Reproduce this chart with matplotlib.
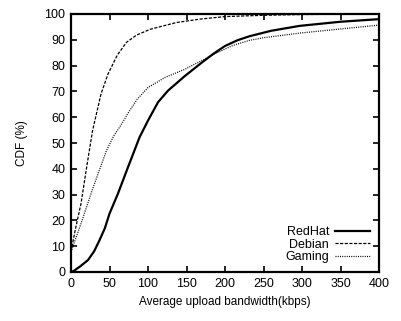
import matplotlib
matplotlib.use("Agg")
import matplotlib.pyplot as plt

plt.rcParams['font.family'] = ['Liberation Sans', 'DejaVu Sans']
plt.rcParams['font.size'] = 9

# values (kbps, CDF %)
redhat_x = [0, 4, 12, 22, 30, 37, 44, 50, 61, 74, 89, 100, 113, 126, 148, 170, 185, 200, 216, 232, 260, 297, 350, 400]
redhat_y = [0, 0.5, 2.2, 4.6, 8, 12.3, 17, 22.6, 30.4, 40.6, 52.2, 58.7, 65.8, 70.3, 76, 81.2, 84.6, 87.6, 89.8, 91.4, 93.5, 95.4, 97, 98]

debian_x = [0, 6, 13, 20, 28, 39, 48, 60, 72, 85, 103, 137, 167, 200, 250, 300, 400]
debian_y = [8, 17, 26.5, 40, 54.8, 69, 76.7, 84, 89, 91.8, 94.1, 96.7, 98, 99, 99.5, 99.8, 100]

gaming_x = [0, 13, 29, 46, 55, 65, 76, 86, 100, 122, 148, 170, 190, 210, 232, 250, 297, 350, 400]
gaming_y = [7.8, 18.8, 33, 47, 52.5, 57, 62.5, 67, 71.5, 75.4, 78.6, 82, 85, 87.8, 89.8, 90.8, 92.6, 94.2, 95.7]

fig = plt.figure(figsize=(4.01, 3.21), dpi=100)
ax = fig.add_axes([71/401, 49/321, 308/401, 258/321])

ax.plot(redhat_x, redhat_y, color='black', lw=1.6, label='RedHat')
ax.plot(debian_x, debian_y, color='black', lw=0.9, dashes=(2.5, 1.2), label='Debian')
ax.plot(gaming_x, gaming_y, color='black', lw=0.9, dashes=(0.8, 1.0), label='Gaming')

ax.set_xlim(0, 400)
ax.set_ylim(0, 100)
ax.set_xticks(range(0, 401, 50))
ax.set_yticks(range(0, 101, 10))
ax.tick_params(direction='in', top=True, right=True, length=4, width=1.2, pad=4)
for s in ax.spines.values():
    s.set_linewidth(1.6)

ax.set_xlabel('Average upload bandwidth(kbps)', fontsize=8.5, labelpad=5)
ax.set_ylabel('CDF (%)', fontsize=8.5, labelpad=12)

ax.legend(loc='lower right', frameon=False, markerfirst=False, handlelength=2.8,
          handletextpad=0.5, labelspacing=0.05, borderaxespad=0.3, fontsize=9)

fig.savefig('out.png', dpi=100)
